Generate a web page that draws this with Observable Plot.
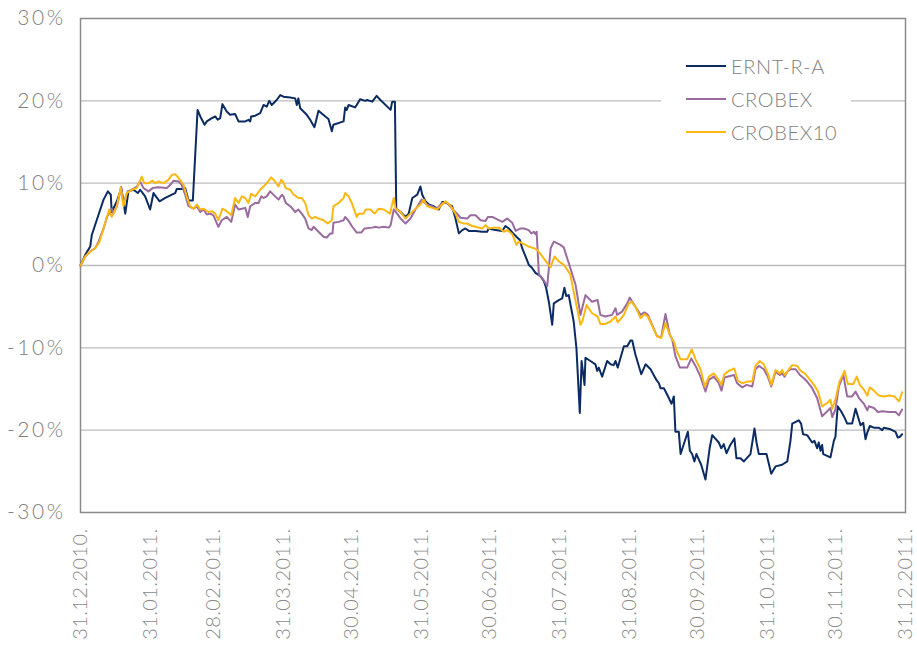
<!DOCTYPE html>
<html><head><meta charset="utf-8">
<script src="https://cdn.jsdelivr.net/npm/d3@7"></script>
<script src="https://cdn.jsdelivr.net/npm/@observablehq/plot@0.6"></script>
<style>
body{margin:0;background:#fff;}
#wrap{position:relative;width:917px;height:656px;font-family:Lato,"Noto Sans",sans-serif;}
#legend{position:absolute;left:661px;top:44px;width:190px;height:112px;background:#fff;z-index:2;}
.item{position:absolute;left:25px;height:22px;display:flex;align-items:center;font-size:20px;color:#7f7f7f;font-weight:300;letter-spacing:0.6px;white-space:nowrap;}
.sw{width:40px;height:0;border-top:2px solid;margin-right:5px;}
#wrap svg g[aria-label="y-axis tick label"]{font-size:21px;letter-spacing:2.5px;}
#wrap svg g[aria-label="x-axis tick label"]{font-size:20px;letter-spacing:0.4px;fill:#8a8a8a;}
</style></head><body><div id="wrap"><div id="legend"></div></div>
<script>
const seriesNames = ["ERNT-R-A", "CROBEX", "CROBEX10"];
const seriesColors = ["#0b2b63", "#9a6b9f", "#fbb813"];
const tickLabels = ["31.12.2010.","31.01.2011.","28.02.2011.","31.03.2011.","30.04.2011.","31.05.2011.","30.06.2011.","31.07.2011.","31.08.2011.","30.09.2011.","31.10.2011.","30.11.2011.","31.12.2011."];
const yTicks = [-30, -20, -10, 0, 10, 20, 30];

// [days since 31.12.2010, % change]
const erntData = [[0,0],[2.1,1.3],[4.3,2.3],[5.0,3.7],[8.0,6.2],[10.2,8.0],[12.1,9.0],[13.4,8.6],[13.8,6.5],[16.1,7.8],[17.6,9.0],[18.0,9.5],[19.8,6.3],[21.2,9.0],[23.4,9.2],[25.4,8.8],[26.4,9.2],[28.6,8.4],[30.8,6.8],[32.3,8.8],[35.0,7.8],[37.5,8.2],[38.9,8.4],[40.4,8.6],[41.9,8.8],[42.6,9.3],[44.8,9.3],[46.3,9.4],[47.8,7.9],[49.7,7.9],[51.8,18.9],[53.0,18.1],[54.9,17.1],[55.9,17.5],[58.1,17.9],[59.6,18.1],[60.7,17.7],[61.8,17.9],[62.8,19.6],[64.7,18.7],[66.2,18.3],[68.4,18.4],[69.9,17.5],[72.9,17.5],[74.3,17.7],[75.1,17.5],[75.5,18.1],[77.3,18.2],[79.5,18.5],[81.0,19.5],[82.4,19.3],[83.5,20.0],[84.6,19.5],[86.8,20.1],[88.4,20.7],[89.8,20.5],[92.8,20.4],[95.0,20.3],[95.7,19.5],[96.4,20.3],[97.2,19.1],[100.1,18.3],[101.6,17.7],[103.5,16.8],[105.3,18.8],[108.3,18.1],[109.7,17.8],[111.2,16.3],[111.9,17.1],[116.4,17.5],[117.1,19.2],[117.8,18.9],[118.6,19.5],[121.5,19.2],[122.2,19.5],[123.7,20.2],[126.0,20.0],[126.8,20.1],[129.1,19.9],[131.0,20.6],[132.7,20.1],[137.2,18.9],[137.9,19.9],[139.1,19.9],[139.7,6.9],[141.6,6.5],[143.8,5.9],[145.2,6.3],[146.8,8.2],[149.0,8.6],[150.4,9.6],[151.2,8.6],[152.6,7.8],[154.1,7.4],[156.3,7.2],[158.5,6.8],[160.0,7.7],[161.5,7.7],[162.9,7.4],[164.4,7.2],[165.9,5.7],[167.4,3.9],[168.9,4.3],[170.3,4.5],[171.8,4.2],[174.8,4.2],[177.7,4.1],[179.9,4.1],[180.6,4.5],[183.6,4.3],[186.6,4.2],[188.0,4.8],[189.5,4.5],[191.4,3.9],[193.2,3.4],[194.4,3.1],[195.4,2.1],[196.9,1.1],[198.3,0.1],[199.8,-0.3],[201.3,-0.9],[203.5,-1.3],[205.0,-1.9],[206.0,-2.7],[207.2,-4.4],[208.7,-7.2],[209.4,-4.6],[211.6,-4.2],[213.1,-4.0],[214.1,-2.7],[214.9,-3.7],[216.0,-3.6],[218.2,-6.8],[219.4,-10.0],[220.9,-17.9],[221.7,-11.6],[223.0,-14.5],[223.4,-11.2],[225.6,-11.6],[227.8,-12.0],[228.6,-12.8],[229.3,-12.4],[230.8,-13.5],[233.0,-11.6],[234.5,-12.0],[235.9,-12.1],[236.7,-11.6],[237.7,-12.4],[240.4,-9.8],[241.9,-9.8],[243.3,-9.1],[244.1,-9.1],[245.5,-10.8],[248.1,-13.2],[250.0,-12.0],[252.2,-12.6],[254.8,-13.9],[255.9,-14.3],[256.6,-14.9],[258.1,-14.9],[259.6,-15.7],[261.5,-16.8],[262.5,-15.9],[263.2,-20.2],[264.7,-20.2],[265.5,-22.9],[268.7,-20.2],[269.6,-22.5],[270.6,-22.9],[271.6,-23.8],[272.5,-22.9],[274.6,-24.2],[276.5,-26.0],[278.4,-22.1],[279.5,-20.6],[282.4,-21.5],[283.5,-22.2],[284.6,-21.7],[285.8,-22.8],[287.3,-21.9],[289.3,-21.0],[290.2,-23.4],[292.0,-23.4],[293.5,-23.8],[296.4,-22.9],[298.2,-19.8],[299.1,-21.5],[300.1,-22.9],[303.5,-22.9],[305.6,-25.3],[307.5,-24.4],[310.4,-24.2],[312.7,-23.8],[314.1,-21.3],[314.9,-19.2],[317.1,-18.9],[317.8,-18.8],[318.8,-19.2],[319.7,-20.5],[321.5,-20.6],[323.7,-21.5],[324.7,-21.3],[325.9,-22.2],[326.6,-21.5],[327.4,-22.5],[328.1,-21.8],[328.6,-22.9],[331.8,-23.3],[333.3,-21.3],[334.0,-20.8],[335.0,-17.1],[336.5,-17.7],[337.7,-18.3],[339.2,-19.2],[341.4,-19.2],[342.9,-17.4],[345.1,-19.4],[346.3,-19.1],[347.3,-21.1],[348.1,-20.3],[349.2,-19.5],[351.0,-19.7],[353.2,-19.7],[354.7,-20.0],[355.4,-19.7],[358.4,-19.9],[360.6,-20.2],[361.6,-20.9],[362.5,-20.8],[363.5,-20.5]];

const crobexData = [[0,0],[2.1,1.1],[4.3,1.7],[6.5,2.1],[8.0,2.9],[10.2,4.5],[11.7,5.9],[13.1,6.5],[13.8,6.9],[14.6,6.3],[16.1,7.2],[17.6,9.0],[18.0,9.4],[19.0,7.6],[20.9,9.0],[22.7,9.2],[24.9,9.6],[26.4,10.2],[27.9,9.4],[30.1,9.0],[31.9,9.4],[34.5,9.5],[38.2,9.4],[39.7,9.8],[41.2,10.3],[43.4,10.2],[44.8,9.8],[46.3,8.6],[47.8,7.2],[50.0,6.9],[51.5,7.2],[53.0,6.5],[54.4,6.8],[55.9,6.2],[57.4,6.3],[58.8,6.1],[61.0,4.7],[62.5,5.5],[64.7,5.9],[66.7,5.3],[68.4,7.4],[69.9,6.8],[71.4,6.9],[72.9,7.0],[74.0,5.9],[75.1,7.2],[77.3,7.6],[78.8,7.6],[80.0,8.4],[81.0,8.2],[82.4,8.4],[83.9,9.0],[86.1,8.4],[87.6,8.0],[89.1,8.6],[89.8,8.4],[90.8,7.6],[92.8,7.2],[95.0,6.5],[96.4,6.8],[97.9,6.3],[99.4,5.7],[100.9,4.5],[102.3,4.3],[103.1,4.7],[105.3,4.1],[107.5,3.5],[109.0,3.4],[110.5,3.9],[111.5,3.9],[111.9,5.2],[114.2,5.3],[116.4,5.5],[117.1,5.9],[117.8,5.7],[118.9,5.3],[120.0,4.8],[122.2,4.0],[124.2,4.0],[125.7,4.5],[129.1,4.6],[130.5,4.7],[132.0,4.6],[134.2,4.7],[136.4,4.6],[137.2,4.9],[138.6,6.8],[140.1,6.3],[141.6,5.7],[143.8,5.1],[146.0,5.7],[148.2,6.8],[150.9,8.0],[153.1,7.4],[155.4,7.2],[157.6,6.9],[160.0,7.6],[162.2,7.6],[164.4,6.9],[166.6,6.3],[168.1,5.8],[171.1,5.7],[172.5,6.1],[174.8,6.1],[177.0,5.5],[179.2,5.4],[180.2,5.9],[182.2,5.9],[184.4,5.6],[186.6,5.3],[188.8,5.7],[191.0,5.2],[192.5,4.2],[194.7,4.5],[196.2,4.5],[198.3,4.3],[199.4,3.9],[200.6,4.1],[201.3,3.8],[201.8,4.1],[202.8,-1.1],[204.7,-1.7],[206.5,-2.5],[208.0,2.1],[209.4,2.9],[212.4,2.5],[213.8,2.2],[216.0,0.3],[219.0,-2.3],[221.2,-6.0],[223.4,-3.6],[226.3,-4.4],[228.8,-4.2],[230.0,-6.0],[232.2,-6.2],[235.2,-6.0],[236.7,-5.2],[237.4,-6.0],[239.6,-5.6],[241.9,-4.6],[243.0,-3.9],[244.1,-4.4],[245.5,-5.0],[247.8,-6.0],[249.5,-5.7],[251.0,-6.0],[255.1,-8.6],[256.9,-8.7],[258.8,-5.9],[260.7,-8.4],[261.8,-9.0],[263.2,-11.0],[265.2,-12.4],[268.4,-12.4],[270.2,-11.3],[272.1,-12.2],[274.3,-13.5],[276.5,-15.3],[278.0,-13.9],[280.2,-13.5],[282.4,-14.3],[283.6,-15.2],[284.9,-13.6],[289.1,-13.3],[290.5,-14.3],[292.8,-14.8],[294.7,-14.5],[297.2,-14.7],[298.6,-12.6],[300.1,-12.2],[302.3,-12.6],[304.1,-13.5],[305.6,-14.7],[307.5,-12.9],[309.4,-13.3],[310.4,-13.1],[311.5,-13.5],[312.7,-12.9],[314.1,-12.6],[316.4,-12.6],[318.3,-13.3],[320.0,-13.7],[321.5,-14.1],[323.7,-14.9],[325.9,-16.1],[328.1,-18.3],[330.4,-17.7],[331.8,-17.3],[332.6,-18.4],[334.0,-17.5],[335.5,-14.7],[337.5,-13.3],[339.2,-15.9],[341.4,-15.9],[342.9,-15.3],[344.4,-16.1],[346.6,-16.8],[348.1,-17.6],[348.8,-17.1],[351.0,-17.3],[352.8,-17.8],[354.7,-17.7],[357.7,-17.8],[360.6,-17.8],[362.1,-18.2],[363.5,-17.5]];

const crobex10Data = [[0,0],[2.1,1.1],[4.3,1.7],[6.5,2.1],[8.3,2.8],[10.2,4.5],[11.7,5.9],[12.7,6.8],[13.8,5.9],[16.1,7.2],[17.8,9.5],[19.0,7.2],[20.5,8.8],[22.7,9.2],[24.9,9.4],[27.1,10.8],[28.2,10.0],[30.1,10.0],[31.9,10.3],[33.0,10.0],[34.5,10.2],[36.7,10.0],[38.9,10.4],[40.4,11.0],[41.9,11.1],[43.4,10.6],[45.6,9.8],[47.0,8.4],[48.5,7.2],[50.0,6.9],[51.5,7.4],[53.0,6.8],[54.4,6.9],[56.6,6.5],[58.1,6.6],[59.6,6.3],[61.0,5.5],[62.8,6.9],[64.7,6.6],[66.7,6.1],[68.4,8.2],[69.9,7.6],[71.4,8.4],[72.9,8.2],[74.3,7.6],[75.5,8.7],[77.3,8.4],[79.5,9.2],[81.0,9.6],[82.4,10.0],[84.4,10.7],[86.1,10.2],[87.6,9.6],[88.8,10.4],[89.8,10.1],[90.8,9.4],[92.8,9.2],[94.3,8.6],[96.4,8.2],[97.9,8.2],[99.4,7.6],[100.9,6.1],[102.3,5.7],[103.8,5.9],[105.3,5.7],[107.5,5.5],[109.4,5.1],[111.2,5.5],[111.9,7.2],[114.2,7.6],[116.4,8.2],[117.1,8.8],[118.6,8.4],[120.0,7.6],[122.2,5.9],[123.0,6.3],[125.2,6.3],[126.2,6.8],[128.3,6.8],[130.1,6.3],[132.0,6.9],[134.2,6.8],[136.9,6.3],[138.6,8.2],[139.4,6.9],[141.6,6.5],[143.8,5.7],[146.0,6.3],[148.2,6.9],[150.4,7.4],[151.9,8.0],[153.4,7.2],[155.6,7.0],[157.8,6.8],[160.0,7.4],[161.5,7.8],[163.6,7.3],[165.9,6.3],[167.4,5.3],[169.6,5.1],[171.1,5.1],[173.3,4.8],[174.8,4.7],[177.7,4.5],[179.2,4.9],[180.6,4.5],[182.9,4.6],[185.1,4.6],[187.3,4.1],[188.8,4.3],[191.0,3.8],[192.9,2.5],[193.9,2.9],[196.2,2.6],[198.3,2.3],[200.6,2.1],[202.1,1.9],[204.3,1.1],[206.5,0.3],[208.0,-0.2],[209.7,1.1],[211.6,0.5],[213.8,0.1],[215.3,-0.5],[216.7,-1.1],[218.2,-3.2],[219.7,-5.2],[221.2,-7.2],[222.0,-6.8],[223.9,-4.8],[226.3,-5.8],[228.8,-6.2],[230.0,-7.1],[232.2,-7.1],[234.5,-6.8],[236.7,-6.2],[237.7,-6.9],[240.4,-6.0],[242.6,-4.6],[243.7,-4.4],[245.5,-5.0],[247.8,-6.4],[249.5,-5.9],[251.0,-6.2],[255.1,-8.6],[256.9,-8.8],[258.8,-7.0],[260.7,-8.4],[262.8,-9.4],[263.6,-10.3],[265.5,-11.4],[268.4,-11.4],[270.4,-10.2],[272.1,-11.4],[274.3,-12.6],[276.2,-14.7],[278.0,-13.5],[280.2,-13.1],[282.4,-13.9],[283.5,-14.5],[284.9,-13.2],[286.8,-12.8],[289.3,-12.5],[290.8,-14.0],[292.8,-14.3],[295.0,-14.1],[297.2,-14.1],[298.6,-12.2],[300.5,-11.6],[302.3,-12.0],[304.1,-13.1],[305.6,-14.5],[307.5,-12.7],[309.4,-13.1],[310.4,-12.7],[311.6,-13.3],[313.4,-12.6],[314.9,-12.1],[317.1,-12.2],[318.6,-12.8],[320.4,-13.1],[322.3,-13.7],[324.5,-14.5],[326.3,-15.3],[328.1,-17.1],[330.4,-16.7],[331.8,-16.3],[332.6,-17.4],[334.0,-16.3],[335.8,-14.1],[338.0,-12.8],[339.5,-14.4],[341.9,-14.4],[343.4,-13.5],[344.8,-14.5],[346.9,-15.2],[348.1,-15.8],[349.2,-14.8],[351.0,-15.2],[353.2,-15.8],[355.4,-15.9],[358.1,-15.8],[360.1,-15.9],[362.1,-16.5],[363.5,-15.4]];

const parse = d3.timeParse("%d.%m.%Y.");
const tickDates = tickLabels.map(parse);
const start = tickDates[0];
const end = tickDates[tickDates.length - 1];
const toDate = d => new Date(start.getTime() + d * 86400000);

const allSeries = [erntData, crobexData, crobex10Data];
const rows = allSeries.flatMap((data, i) =>
  data.map(([d, v]) => ({series: seriesNames[i], date: toDate(d), value: v})));

const chart = Plot.plot({
  width: 917, height: 656,
  marginLeft: 80, marginRight: 12, marginTop: 18, marginBottom: 144,
  style: {fontFamily: "Lato, 'Noto Sans', sans-serif", fontSize: "20px", color: "#7f7f7f", background: "#fff", overflow: "visible", fontWeight: 300},
  x: {type: "time", domain: [start, end], ticks: tickDates, tickFormat: d3.timeFormat("%d.%m.%Y."), tickRotate: -90, tickSize: 0, tickPadding: 16, label: null},
  y: {domain: [-30, 30], ticks: yTicks, tickFormat: d => d + "%", tickSize: 0, tickPadding: 15, label: null},
  color: {domain: seriesNames, range: seriesColors},
  marks: [
    Plot.ruleY(yTicks.slice(1, -1), {stroke: "#bdbdbd", strokeWidth: 1.3}),
    Plot.frame({stroke: "#8a8a8a", strokeWidth: 1.5}),
    Plot.line(rows, {x: "date", y: "value", z: "series", stroke: "series", strokeWidth: 2, curve: "linear"})
  ]
});
document.getElementById("wrap").prepend(chart);

const legend = document.getElementById("legend");
seriesNames.forEach((name, i) => {
  const item = document.createElement("div");
  item.className = "item";
  item.style.top = (11 + i * 33) + "px";
  const sw = document.createElement("span");
  sw.className = "sw";
  sw.style.borderColor = seriesColors[i];
  item.appendChild(sw);
  item.appendChild(document.createTextNode(name));
  legend.appendChild(item);
});
</script>
</body></html>
